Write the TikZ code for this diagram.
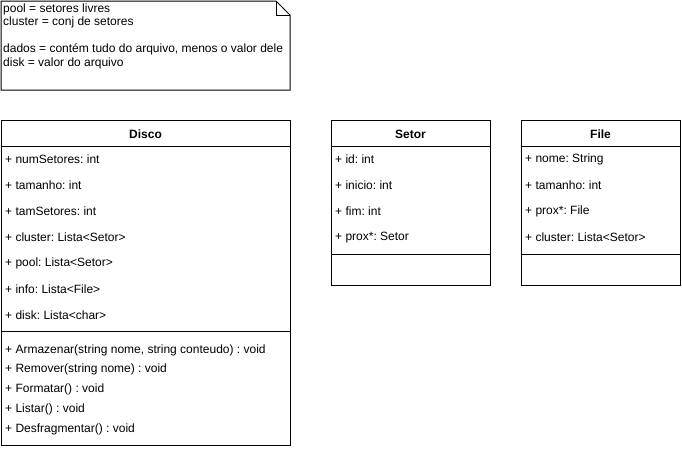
\documentclass[tikz,border=0pt]{standalone}
\usepackage{fontspec}
\setmainfont{Liberation Sans}
\usetikzlibrary{positioning, calc}
\frenchspacing

\tikzset{
  classbox/.style={draw, line width=1pt, anchor=north west, inner sep=0pt},
  ctitle/.style={font=\fontsize{12}{14}\selectfont\bfseries, inner sep=0pt},
  member/.style={font=\fontsize{12}{14}\selectfont, anchor=west, inner sep=0pt},
  sep/.style={line width=1pt},
}

\begin{document}
\begin{tikzpicture}[x=1pt,y=-1pt]
\useasboundingbox (0,0) rectangle (682,453);
% nota
\coordinate (n1) at (1,1);
\coordinate (n2) at (276,1);
\coordinate (n3) at (290,15);
\coordinate (n4) at (290,90);
\coordinate (n5) at (1,90);
\draw[sep, line join=miter] (n1)--(n2)--(n3)--(n4)--(n5)--cycle;
\draw[sep] (n2)--(n2 |- n3)--(n3);
\node[member] (nota1) at (3,9) {pool = setores livres};
\node[member] (nota2) at (3,22) {cluster = conj de setores};
\node[member] (nota3) at (3,49) {dados = contém tudo do arquivo, menos o valor dele};
\node[member] (nota4) at (3,63) {disk = valor do arquivo};

% Disco
\node[classbox, minimum width=289, minimum height=325] (disco) at (1,120) {};
\node[ctitle] (disco-t) at (145.5,134) {Disco};
\draw[sep] (disco.west |- 0,146) -- (disco.east |- 0,146);
\draw[sep] (disco.west |- 0,331) -- (disco.east |- 0,331);
\foreach \t [count=\i] in {numSetores: int, tamanho: int, tamSetores: int,
    cluster: Lista<Setor>, pool: Lista<Setor>, info: Lista<File>, disk: Lista<char>}
  \node[member] (disco-a\i) at (5,{159+26.1*(\i-1)}) {+ \t};
\foreach \t [count=\i] in {{Armazenar(string nome, string conteudo) : void},
    Remover(string nome) : void, Formatar() : void, Listar() : void,
    Desfragmentar() : void}
  \node[member] (disco-m\i) at (5,{350+19.8*(\i-1)}) {+ \t};

% Setor
\node[classbox, minimum width=159, minimum height=165] (setor) at (331,120) {};
\node[ctitle] (setor-t) at (410.5,134) {Setor};
\draw[sep] (setor.west |- 0,146) -- (setor.east |- 0,146);
\draw[sep] (setor.west |- 0,254) -- (setor.east |- 0,254);
\foreach \t [count=\i] in {id: int, inicio: int, fim: int, prox*: Setor}
  \node[member] (setor-a\i) at (335,{159+26.1*(\i-1)}) {+ \t};

% File
\node[classbox, minimum width=159, minimum height=165] (file) at (521,120) {};
\node[ctitle] (file-t) at (600.5,134) {File};
\draw[sep] (file.west |- 0,146) -- (file.east |- 0,146);
\draw[sep] (file.west |- 0,254) -- (file.east |- 0,254);
\foreach \t [count=\i] in {nome: String, tamanho: int, prox*: File, cluster: Lista<Setor>}
  \node[member] (file-a\i) at (525,{159+26.1*(\i-1)}) {+ \t};
\end{tikzpicture}
\end{document}
